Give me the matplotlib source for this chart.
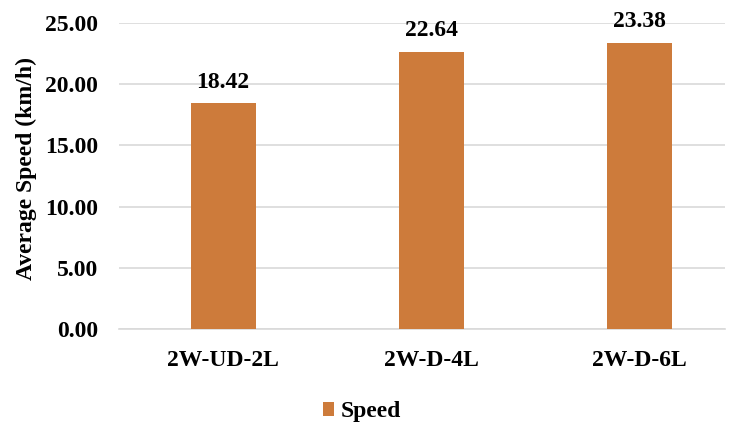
import matplotlib.pyplot as plt
import numpy as np

categories = ['2W-UD-2L', '2W-D-4L', '2W-D-6L']
speed = [18.42, 22.64, 23.38]
yticks = [0, 5, 10, 15, 20, 25]

plt.rcParams['font.family'] = ['Liberation Serif', 'DejaVu Serif']
plt.rcParams['font.weight'] = 'bold'

fig = plt.figure(figsize=(7.31, 4.23), dpi=100)
ax = fig.add_axes([0.163, 0.222, 0.829, 0.724])

x = np.arange(len(categories))
bars = ax.bar(x, speed, width=0.3125, color='#CD7B3B', label='Speed', zorder=3)
for xi, v in zip(x, speed):
    ax.text(xi, v + 1.3, f'{v:.2f}', ha='center', va='baseline', fontsize=17, fontweight='bold')

ax.set_xlim(-0.5, 2.413)
ax.set_ylim(0, 25)
ax.set_yticks(yticks)
ax.set_yticklabels([f'{t:.2f}' for t in yticks], fontsize=17, fontweight='bold')
ax.set_xticks(x)
ax.set_xticklabels(categories, fontsize=17, fontweight='bold')
ax.tick_params(length=0)
ax.tick_params(axis='y', pad=15)
ax.tick_params(axis='x', pad=15)
ax.yaxis.grid(True, color='#d9d9d9', linewidth=1.2, zorder=0)
for s in ['top', 'right', 'left']:
    ax.spines[s].set_visible(False)
ax.spines['bottom'].set_color('#d9d9d9')
ax.spines['bottom'].set_linewidth(1.2)
ax.set_ylabel('Average Speed (km/h)', fontsize=17, fontweight='bold')
ax.yaxis.set_label_coords(-0.135, 0.526)

ax.legend(loc='center', bbox_to_anchor=(0.40, -0.27), frameon=False, fontsize=17,
          handlelength=0.5, handleheight=0.5, handletextpad=0.25)

fig.savefig('out.png', dpi=100)
